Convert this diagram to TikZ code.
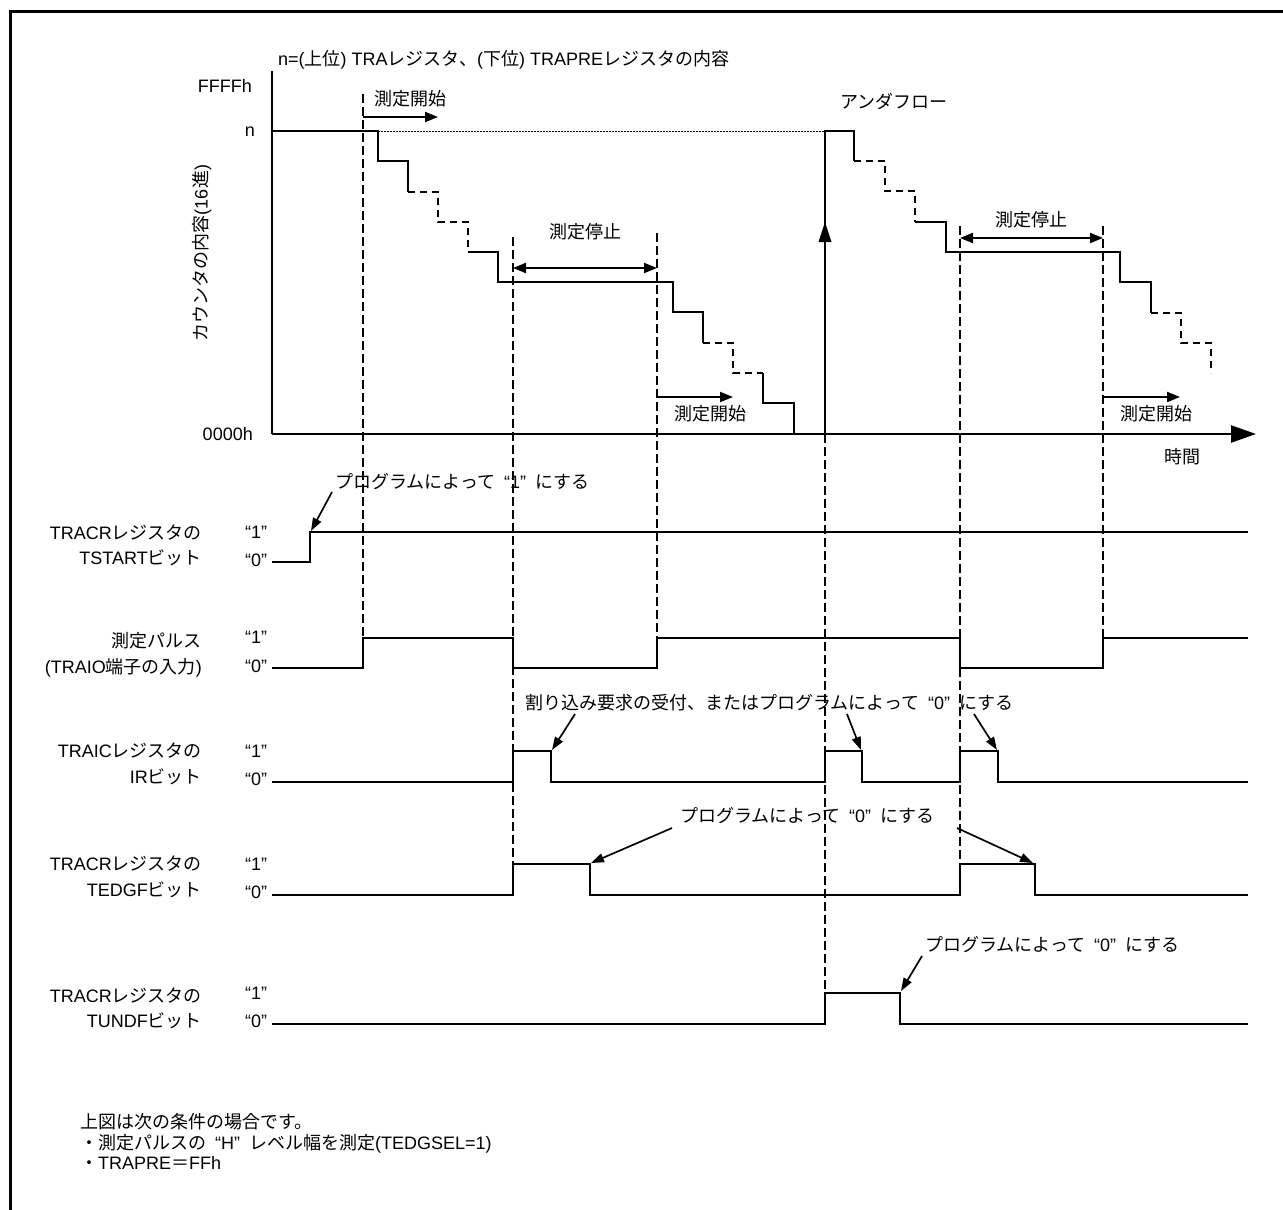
\documentclass[tikz,border=0pt]{standalone}
\usepackage{fontspec}
\setmainfont{Liberation Sans}
\newfontfamily\jpf{Noto Sans CJK JP}
\newcommand\J[1]{{\jpf #1}}
\newcommand\jq[1]{\makebox[15pt][r]{“}#1\makebox[15pt][l]{”}}
\usetikzlibrary{arrows.meta}
\begin{document}
\begin{tikzpicture}[x=1pt,y=-1pt,
  txt/.style={inner sep=0pt, font=\fontsize{18}{20}\selectfont},
  sig/.style={line width=2.1pt, line join=miter},
  guide/.style={line width=2.6pt, dash pattern=on 9pt off 4pt},
  stepd/.style={line width=2.4pt, dash pattern=on 7pt off 5pt},
  meas/.style={line width=2pt, -{Triangle[length=13pt,width=10pt]}},
  measd/.style={line width=2pt, {Triangle[length=13pt,width=10pt]}-{Triangle[length=13pt,width=10pt]}},
  ann/.style={line width=1.7pt, -{Triangle[length=13pt,width=9pt]}},
]
\useasboundingbox (0,0) rectangle (1283,1210);
\fill[white] (0,0) rectangle (1283,1210);
% frame
\draw[line width=3pt] (10,1212) -- (10,11) -- (1285,11);

% title and axis labels
\node[txt,anchor=base west] (title) at (278,65) {n=(\J{上位}) TRA\J{レジスタ、}(\J{下位}) TRAPRE\J{レジスタの内容}};
\node[txt,anchor=base east] (ffff) at (252,92) {FFFFh};
\node[txt,anchor=base east] (nlab) at (255,136) {n};
\node[txt,anchor=base east] (zero) at (253,440) {0000h};
\node[txt,rotate=90] (ylab) at (202,253) {\J{カウンタの内容}(16\J{進})};
\node[txt,anchor=base west] (uflow) at (840,108) {\J{アンダフロー}};
\node[txt,anchor=base] (time) at (1182,463) {\J{時間}};

% axes
\coordinate (O) at (272,434);
\coordinate (ytop) at (272,71);
\coordinate (xend) at (1256,434);
\draw[line width=2.5pt] (ytop) -- (O);
\draw[line width=2.5pt, -{Triangle[length=25pt,width=17pt]}] (O) -- (xend);

% dotted n level
\draw[line width=0.9pt, dash pattern=on 1.5pt off 1.5pt] (378,131) -- (825,131);

% first staircase
\draw[sig] (272,131) -- (378,131) -- (378,161) -- (408,161) -- (408,192);
\draw[stepd] (408,192) -- (438,192) -- (438,222) -- (468,222) -- (468,252);
\draw[sig] (468,252) -- (498,252) -- (498,282) -- (673,282) -- (673,312) -- (703,312) -- (703,343);
\draw[stepd] (703,343) -- (733,343) -- (733,373) -- (763,373);
\draw[sig] (763,373) -- (763,403) -- (794,403) -- (794,434);

% underflow and second staircase
\draw[sig] (825,434) -- (825,131) -- (854,131) -- (854,161);
\fill (825,222) -- (818.5,242) -- (831.5,242) -- cycle;
\draw[stepd] (854,161) -- (885,161) -- (885,191) -- (915,191) -- (915,222);
\draw[sig] (915,222) -- (946,222) -- (946,252) -- (1120,252) -- (1120,282) -- (1151,282) -- (1151,313);
\draw[stepd] (1151,313) -- (1181,313) -- (1181,343) -- (1211,343) -- (1211,373);

% guide lines
\draw[guide] (363,94) -- (363,638);
\draw[guide] (513,237) -- (513,864);
\draw[guide] (657,233) -- (657,638);
\draw[guide] (825,434) -- (825,993);
\draw[guide] (960,226) -- (960,864);
\draw[guide] (1103,226) -- (1103,638);

% measurement arrows and labels
\coordinate (m1s) at (363,117); \coordinate (m1e) at (438,117);
\draw[meas] (m1s) -- (m1e);
\node[txt,anchor=base] (st1) at (410,105) {\J{測定開始}};
\coordinate (p1s) at (513,268); \coordinate (p1e) at (657,268);
\draw[measd] (p1s) -- (p1e);
\node[txt,anchor=base] (sp1) at (585,238) {\J{測定停止}};
\coordinate (m2s) at (657,397); \coordinate (m2e) at (733,397);
\draw[meas] (m2s) -- (m2e);
\node[txt,anchor=base] (st2) at (710,420) {\J{測定開始}};
\coordinate (p2s) at (960,238); \coordinate (p2e) at (1103,238);
\draw[measd] (p2s) -- (p2e);
\node[txt,anchor=base] (sp2) at (1031,226) {\J{測定停止}};
\coordinate (m3s) at (1103,397); \coordinate (m3e) at (1180,397);
\draw[meas] (m3s) -- (m3e);
\node[txt,anchor=base] (st3) at (1156,420) {\J{測定開始}};

% TSTART row
\node[txt,anchor=base east] (l1a) at (202,539) {TRACR\J{レジスタの}};
\node[txt,anchor=base east] (l1b) at (202,564) {TSTART\J{ビット}};
\node[txt,anchor=base west] (h1) at (245,538) {“1”};
\node[txt,anchor=base west] (z1) at (245,566) {“0”};
\draw[sig] (272,562) -- (310,562) -- (310,532) -- (1248,532);
\node[txt,anchor=base west] (a1) at (335,488) {\J{プログラムによって}\jq{1}\J{にする}};
\coordinate (a1s) at (332,492); \coordinate (a1e) at (311,531);
\draw[ann] (a1s) -- (a1e);

% measurement pulse row
\node[txt,anchor=base east] (l2a) at (202,647) {\J{測定パルス}};
\node[txt,anchor=base east] (l2b) at (202,673) {(TRAIO\J{端子の入力})};
\node[txt,anchor=base west] (h2) at (245,643) {“1”};
\node[txt,anchor=base west] (z2) at (245,672) {“0”};
\draw[sig] (272,668) -- (363,668) -- (363,638) -- (513,638) -- (513,668) -- (657,668) -- (657,638) -- (960,638) -- (960,668) -- (1103,668) -- (1103,638) -- (1248,638);

% IR row
\node[txt,anchor=base east] (l3a) at (202,757) {TRAIC\J{レジスタの}};
\node[txt,anchor=base east] (l3b) at (202,783) {IR\J{ビット}};
\node[txt,anchor=base west] (h3) at (245,757) {“1”};
\node[txt,anchor=base west] (z3) at (245,785) {“0”};
\draw[sig] (272,782) -- (513,782) -- (513,751) -- (551,751) -- (551,782) -- (825,782) -- (825,751) -- (862,751) -- (862,782) -- (960,782) -- (960,751) -- (998,751) -- (998,782) -- (1248,782);
\node[txt,anchor=base west] (a2) at (525,709) {\J{割り込み要求の受付、またはプログラムによって}\jq{0}\J{にする}};
\coordinate (a2s) at (575,714); \coordinate (a2e) at (552,750);
\coordinate (a3s) at (847,714); \coordinate (a3e) at (861,750);
\coordinate (a4s) at (974,714); \coordinate (a4e) at (997,750);
\draw[ann] (a2s) -- (a2e);
\draw[ann] (a3s) -- (a3e);
\draw[ann] (a4s) -- (a4e);

% TEDGF row
\node[txt,anchor=base east] (l4a) at (202,870) {TRACR\J{レジスタの}};
\node[txt,anchor=base east] (l4b) at (202,896) {TEDGF\J{ビット}};
\node[txt,anchor=base west] (h4) at (245,870) {“1”};
\node[txt,anchor=base west] (z4) at (245,898) {“0”};
\draw[sig] (272,895) -- (513,895) -- (513,864) -- (590,864) -- (590,895) -- (960,895) -- (960,864) -- (1035,864) -- (1035,895) -- (1248,895);
\node[txt,anchor=base west] (a5) at (680,822) {\J{プログラムによって}\jq{0}\J{にする}};
\coordinate (a5s) at (672,828); \coordinate (a5e) at (591,863);
\coordinate (a6s) at (957,828); \coordinate (a6e) at (1033,863);
\draw[ann] (a5s) -- (a5e);
\draw[ann] (a6s) -- (a6e);

% TUNDF row
\node[txt,anchor=base east] (l5a) at (202,1002) {TRACR\J{レジスタの}};
\node[txt,anchor=base east] (l5b) at (202,1027) {TUNDF\J{ビット}};
\node[txt,anchor=base west] (h5) at (245,999) {“1”};
\node[txt,anchor=base west] (z5) at (245,1027) {“0”};
\draw[sig] (272,1024) -- (825,1024) -- (825,993) -- (900,993) -- (900,1024) -- (1248,1024);
\node[txt,anchor=base west] (a7) at (925,951) {\J{プログラムによって}\jq{0}\J{にする}};
\coordinate (a7s) at (922,956); \coordinate (a7e) at (901,991);
\draw[ann] (a7s) -- (a7e);

% footnote
\node[txt,anchor=base west] (f1) at (80,1128) {\J{上図は次の条件の場合です。}};
\node[txt,anchor=base west] (f2) at (80,1149) {\J{・測定パルスの}\jq{H}\J{レベル幅を測定}(TEDGSEL=1)};
\node[txt,anchor=base west] (f3) at (80,1169) {\J{・}TRAPRE\J{＝}FFh};
\end{tikzpicture}
\end{document}
